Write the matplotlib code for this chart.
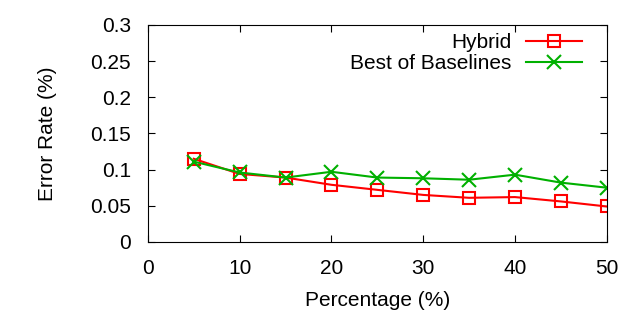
import matplotlib
matplotlib.use("Agg")
import matplotlib.pyplot as plt

plt.rcParams['font.family'] = ['Liberation Sans', 'DejaVu Sans']

# percentages on the x axis
percentage = [5, 10, 15, 20, 25, 30, 35, 40, 45, 50]

# error rates
hybrid = [0.115, 0.094, 0.089, 0.079, 0.072, 0.065, 0.061, 0.062, 0.056, 0.049]
best_of_baselines = [0.111, 0.096, 0.089, 0.097, 0.089, 0.088, 0.086, 0.093, 0.082, 0.075]

x_ticks = [0, 10, 20, 30, 40, 50]
y_ticks = [0, 0.05, 0.1, 0.15, 0.2, 0.25, 0.3]
y_tick_labels = ["0", "0.05", "0.1", "0.15", "0.2", "0.25", "0.3"]

fs = 15

fig = plt.figure(figsize=(6.4, 3.2), dpi=100)
ax = fig.add_axes([0.231, 0.244, 0.717, 0.678])

ax.plot(percentage, hybrid, color="#ff0000", lw=1.5, marker="s", ms=9,
        mfc="none", mec="#ff0000", mew=1.5, label="Hybrid")
ax.plot(percentage, best_of_baselines, color="#00b000", lw=1.5, marker="x", ms=10,
        mec="#00b000", mew=1.5, label="Best of Baselines")

ax.set_xlim(0, 50)
ax.set_ylim(0, 0.3)
ax.set_xticks(x_ticks)
ax.set_yticks(y_ticks)
ax.set_yticklabels(y_tick_labels)
ax.tick_params(direction="in", top=True, right=True, labelsize=fs, length=5, pad=12)
ax.tick_params(axis="x", pad=12)

ax.set_xlabel("Percentage (%)", fontsize=fs, labelpad=10)
ax.set_ylabel("Error Rate (%)", fontsize=fs, labelpad=24)

ax.legend(loc="upper right", frameon=False, markerfirst=False, fontsize=fs,
          handlelength=2.7, borderaxespad=0.0, labelspacing=0.1,
          handletextpad=0.7, bbox_to_anchor=(0.965, 1.0))

fig.savefig("out.png", dpi=100)
